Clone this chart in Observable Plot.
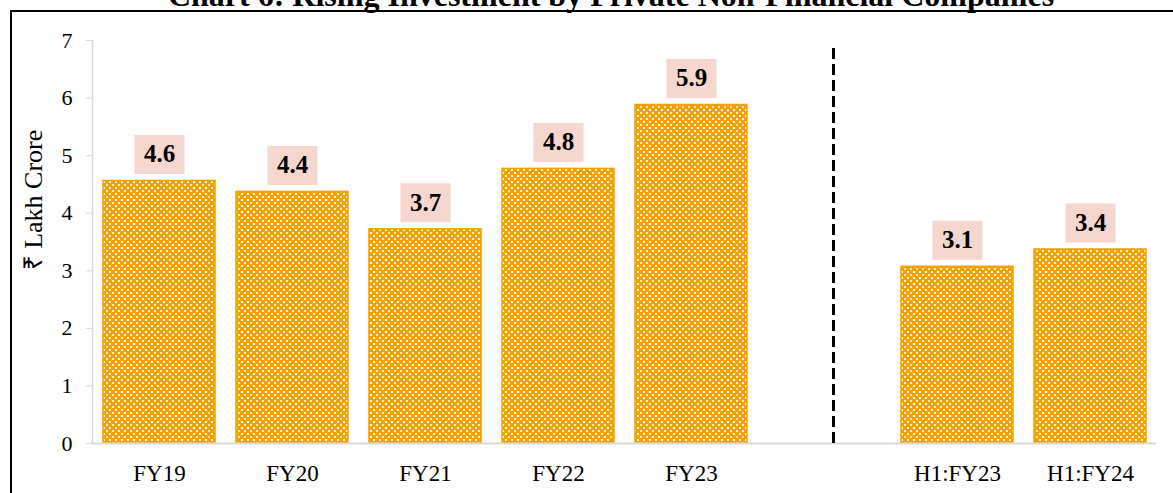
<!DOCTYPE html>
<html><head><meta charset="utf-8">
<script src="https://cdn.jsdelivr.net/npm/d3@7"></script>
<script src="https://cdn.jsdelivr.net/npm/@observablehq/plot@0.6"></script>
<style>
body{margin:0;background:#fff;}
#wrap{position:relative;width:1173px;height:493px;overflow:hidden;font-family:"Liberation Serif","Times New Roman",serif;}
#frame{position:absolute;left:10px;top:10px;width:1200px;height:600px;border-top:2px solid #000;border-left:2px solid #000;}
#title{position:absolute;left:0;width:1222px;text-align:center;top:-21px;font-size:32px;line-height:32px;font-weight:bold;white-space:nowrap;color:#000;}
#chart{position:absolute;left:0;top:0;}
</style></head><body>
<div id="wrap"><div id="frame"></div><div id="title">Chart 6: Rising Investment by Private Non-Financial Companies</div><div id="chart"></div></div>
<script>
// Data
const categories = ["FY19","FY20","FY21","FY22","FY23","sep","H1:FY23","H1:FY24"];
const barCategories = ["FY19","FY20","FY21","FY22","FY23","H1:FY23","H1:FY24"];
const barValues = [4.56, 4.37, 3.72, 4.77, 5.88, 3.07, 3.37];
const yTicks = [0,1,2,3,4,5,6,7];
const yLabel = "₹ Lakh Crore";
const separatorTop = 6.9;

const data = barCategories.map((c, i) => ({cat: c, value: barValues[i], label: d3.format(".1f")(barValues[i])}));

const orange = "#f4a100";
const labelBox = {draw(ctx) { ctx.rect(-25, -19.5, 50, 39); }};

const chart = Plot.plot({
  width: 1173,
  height: 493,
  marginTop: 40,
  marginBottom: 50,
  marginLeft: 92,
  marginRight: 17,
  style: {fontFamily: '"Liberation Serif","Times New Roman",serif', background: "transparent", color: "#000"},
  x: {domain: categories, paddingInner: 0.16, paddingOuter: 0.08, label: null},
  y: {domain: [0, 7], label: null},
  marks: [
    Plot.frame({anchor: "left", stroke: "#d9d9d9", strokeWidth: 1.5}),
    Plot.axisY({ticks: yTicks, tickSize: 6, tickPadding: 14, stroke: "#d9d9d9", fill: "#000", fontSize: 22, label: null, tickFormat: d3.format("d")}),
    Plot.axisX({tickSize: 0, tickPadding: 21, fontSize: 23, fill: "#000", label: null, tickFormat: d => d === "sep" ? "" : d}),
    Plot.barY(data, {x: "cat", y: "value", fill: "url(#dots)", stroke: orange, strokeWidth: 1.5}),
    Plot.ruleY([0], {stroke: "#d9d9d9", strokeWidth: 2}),
    Plot.ruleX(["sep"], {y1: 0, y2: separatorTop, stroke: "#000", strokeWidth: 3, strokeDasharray: "11,5", dx: 9}),
    Plot.dot(data, {x: "cat", y: "value", symbol: labelBox, fill: "#f5d7cf", stroke: "none", dy: -26.5}),
    Plot.text(data, {x: "cat", y: "value", text: "label", dy: -26.5, fontSize: 25, fontWeight: "bold", fill: "#000"}),
    Plot.text([yLabel], {frameAnchor: "left", textAnchor: "middle", text: d => d, rotate: -90, dx: -51, dy: -42, lineAnchor: "bottom", fontSize: 26, fill: "#000"})
  ]
});

d3.select(chart).insert("defs", ":first-child").html(
  `<pattern id="dots" width="6" height="6" patternUnits="userSpaceOnUse">
     <rect width="6" height="6" fill="${orange}"/>
     <rect x="1" y="1" width="2" height="2" fill="#fff"/>
     <rect x="4" y="4" width="2" height="2" fill="#fff" opacity="0.8"/>
   </pattern>`);

document.getElementById("chart").appendChild(chart);
</script>
</body></html>
